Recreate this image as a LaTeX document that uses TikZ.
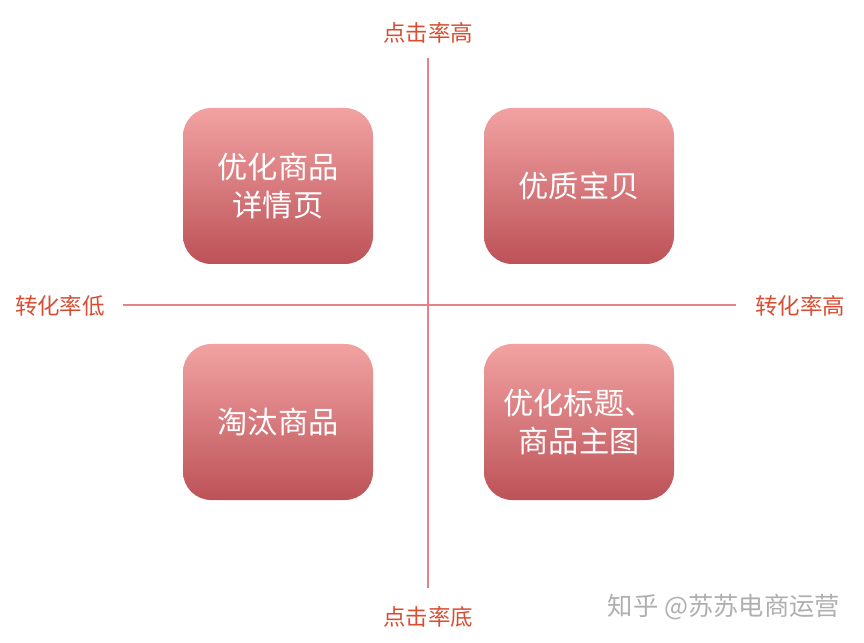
\documentclass[tikz,border=0pt]{standalone}
\usepackage{fontspec}
\newfontfamily\cjk{Noto Sans CJK SC}
\definecolor{boxtop}{RGB}{242,162,162}
\definecolor{boxbot}{RGB}{188,82,88}
\definecolor{axisline}{RGB}{232,128,138}
\definecolor{axistext}{RGB}{214,78,52}
\definecolor{markgray}{RGB}{175,175,175}
\tikzset{
  quad/.style={rounded corners=20pt, minimum width=190*0.025cm, minimum height=156*0.025cm,
    top color=boxtop, bottom color=boxbot, align=center, text=white,
    font=\cjk\fontsize{21.5}{27}\selectfont, inner sep=0pt},
  axislabel/.style={text=axistext, font=\cjk\fontsize{16}{18}\selectfont, inner sep=0pt},
}
\begin{document}
\begin{tikzpicture}[x=0.025cm,y=-0.025cm]
        \useasboundingbox (0,0) rectangle (864,643);
        \node (tl) [quad] at (278,186) {优化商品\\详情页};
        \node (tr) [quad] at (579,186) {优质宝贝};
        \node (bl) [quad] at (278,422) {淘汰商品};
        \node (br) [quad] at (579,422) {优化标题、\\商品主图};
        \node (top) [axislabel] at (428,33) {点击率高};
        \node (bot) [axislabel] at (428,617) {点击率底};
        \node (lft) [axislabel] at (60,306) {转化率低};
        \node (rgt) [axislabel] at (800,306) {转化率高};
        \coordinate (n) at (428,58);
        \coordinate (s) at (428,588);
        \coordinate (w) at (123,305);
        \coordinate (e) at (736,305);
        \draw [axisline, line width=1.4pt] (n) -- (s);
        \draw [axisline, line width=1.4pt] (w) -- (e);
        \node (mark) [text=markgray, font=\cjk\fontsize{18}{20}\selectfont, inner sep=0pt] at (724,607) {知乎 @苏苏电商运营};
\end{tikzpicture}
\end{document}
